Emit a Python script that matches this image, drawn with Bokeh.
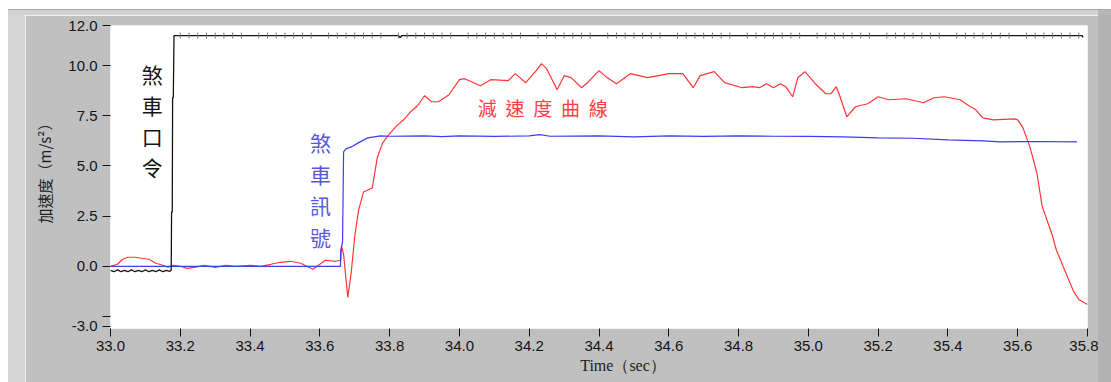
import numpy as np
from bokeh.plotting import figure
from bokeh.models import Range1d, FixedTicker, Label
from bokeh.embed import file_html
from bokeh.resources import INLINE

# ---- data -----------------------------------------------------------------
# brake command (black): low before the command, then a step to the command level
CMD_T = [33.00, 33.01, 33.02, 33.03, 33.04, 33.05, 33.06, 33.07, 33.08, 33.09,
         33.10, 33.11, 33.12, 33.13, 33.14, 33.15, 33.16, 33.17, 33.174,
         33.175, 33.177, 33.178, 33.180, 33.182, 33.825, 33.830, 33.835,
         35.785, 35.787]
CMD_V = [-0.20, -0.27, -0.18, -0.27, -0.20, -0.27, -0.18, -0.27, -0.20, -0.27,
         -0.18, -0.27, -0.20, -0.27, -0.18, -0.27, -0.20, -0.25, -0.20,
         2.70, 2.70, 8.40, 8.40, 11.50, 11.50, 11.40, 11.50,
         11.50, 11.40]
CMD_SAMPLE_START = 33.2
CMD_SAMPLE_STOP = 35.78
CMD_SAMPLE_DT = 0.025
CMD_LEVEL = 11.5

# brake signal (blue)
SIG_T = [33.00, 33.30, 33.659, 33.660, 33.665, 33.668, 33.675, 33.69, 33.71,
         33.737, 33.774, 33.80, 33.90, 33.95, 34.00, 34.10, 34.20, 34.23,
         34.26, 34.40, 34.50, 34.60, 34.70, 34.80, 34.90, 35.00, 35.10,
         35.20, 35.30, 35.40, 35.50, 35.55, 35.65, 35.77]
SIG_V = [0.00, 0.00, 0.00, 0.80, 1.20, 5.70, 5.85, 5.95, 6.15,
         6.40, 6.50, 6.48, 6.50, 6.46, 6.50, 6.47, 6.50, 6.56,
         6.48, 6.50, 6.45, 6.50, 6.47, 6.50, 6.48, 6.47, 6.45,
         6.40, 6.38, 6.30, 6.25, 6.20, 6.22, 6.20]

# measured deceleration (red)
DEC_T = [33.000, 33.020, 33.035, 33.050, 33.070, 33.090, 33.110, 33.130,
         33.150, 33.165, 33.180, 33.200, 33.220, 33.240, 33.270, 33.300,
         33.330, 33.360, 33.400, 33.430, 33.460, 33.487, 33.516, 33.545,
         33.580, 33.600, 33.616, 33.645, 33.660, 33.662, 33.668, 33.680,
         33.690, 33.700, 33.711, 33.725, 33.750, 33.765, 33.780, 33.797,
         33.820, 33.840, 33.860, 33.880, 33.900, 33.920, 33.940, 33.970,
         34.000, 34.015, 34.060, 34.090, 34.140, 34.160, 34.190, 34.220,
         34.235, 34.250, 34.270, 34.280, 34.300, 34.320, 34.350, 34.370,
         34.400, 34.420, 34.450, 34.490, 34.540, 34.600, 34.640, 34.670,
         34.690, 34.730, 34.760, 34.810, 34.840, 34.860, 34.880, 34.900,
         34.920, 34.935, 34.955, 34.970, 34.990, 35.020, 35.050, 35.065,
         35.080, 35.090, 35.110, 35.135, 35.170, 35.200, 35.230, 35.280,
         35.330, 35.360, 35.390, 35.435, 35.460, 35.480, 35.500, 35.530,
         35.590, 35.600, 35.615, 35.635, 35.655, 35.670, 35.700, 35.710,
         35.730, 35.760, 35.775, 35.800]
DEC_V = [0.00, 0.10, 0.35, 0.45, 0.45, 0.40, 0.35, 0.15,
         0.05, -0.05, 0.05, 0.00, -0.10, -0.05, 0.05, -0.05,
         0.05, 0.00, 0.05, 0.00, 0.10, 0.20, 0.25, 0.15,
         -0.15, 0.10, 0.30, 0.25, 0.30, 1.00, 0.60, -1.55,
         -0.30, 1.50, 2.80, 3.70, 3.90, 5.45, 6.15, 6.55,
         7.00, 7.30, 7.70, 8.00, 8.50, 8.20, 8.20, 8.55,
         9.30, 9.35, 9.00, 9.30, 9.25, 9.60, 9.15, 9.75,
         10.10, 9.85, 9.15, 8.80, 9.50, 9.40, 8.90, 9.20,
         9.75, 9.45, 9.10, 9.60, 9.40, 9.60, 9.60, 8.90,
         9.50, 9.70, 9.15, 8.90, 8.95, 8.90, 9.10, 8.90,
         9.10, 8.95, 8.45, 9.40, 9.70, 9.10, 8.60, 8.60,
         8.95, 8.50, 7.45, 7.95, 8.10, 8.45, 8.30, 8.35,
         8.15, 8.40, 8.45, 8.30, 8.00, 7.80, 7.40, 7.30,
         7.35, 7.30, 6.90, 5.95, 4.65, 3.00, 1.50, 0.85,
         0.00, -1.25, -1.65, -1.90]

X_TICKS = [33.0, 33.2, 33.4, 33.6, 33.8, 34.0, 34.2, 34.4, 34.6, 34.8,
           35.0, 35.2, 35.4, 35.6, 35.8]
Y_TICKS = [-3.0, -2.5, 0.0, 2.5, 5.0, 7.5, 10.0, 12.0]
Y_TICK_LABELS = ["-3.0", "", "0.0", "2.5", "5.0", "7.5", "10.0", "12.0"]

CMD_TEXT = "煞車口令"
SIG_TEXT = "煞車訊號"
DEC_TEXT = "減速度曲線"

# ---- figure -----------------------------------------------------------------
PANEL = "#c0c0c0"
RED = "#ff3535"
BLUE = "#3c3cf0"
BLACK = "#141414"

# panel sits inside a white page with a bevelled edge (left/top light, right dark)
p = figure(width=1073, height=367, output_backend="svg", toolbar_location=None,
           x_range=Range1d(33.0, 35.8), y_range=Range1d(-3.1, 12.0),
           min_border_left=85, min_border_right=11, min_border_top=10,
           min_border_bottom=54)
p.margin = (15, 13, 0, 25)
p.styles = {"box-shadow": ("-17px 0 0 0 #d4d4d4, 0 -5px 0 0 #d2d2d2, "
                           "-17px -5px 0 0 #d2d2d2, 13px 0 0 0 #b2b2b2, "
                           "13px -5px 0 0 #b8b8b8, 13px -6px 0 0 #a8a8a8, "
                           "-17px -6px 0 0 #a8a8a8, 0 -6px 0 0 #a8a8a8")}
p.border_fill_color = PANEL
p.background_fill_color = "white"
p.outline_line_color = None
p.xgrid.visible = False
p.ygrid.visible = False

tick_font = "Liberation Sans"
for ax in (p.xaxis[0], p.yaxis[0]):
    ax.axis_line_color = None
    ax.major_tick_in = 0
    ax.major_tick_out = 8
    ax.major_tick_line_color = BLACK
    ax.minor_tick_line_color = None
    ax.major_label_text_font = tick_font
    ax.major_label_text_font_size = "15px"
    ax.major_label_text_color = BLACK
    ax.axis_label_text_font_style = "normal"
    ax.axis_label_text_color = "#202020"

p.xaxis.ticker = FixedTicker(ticks=X_TICKS)
p.xaxis.major_label_overrides = {t: f"{t:.1f}" for t in X_TICKS}
p.xaxis.major_label_standoff = 4
p.xaxis.axis_label = "\u2003\u2003\u2003Time（sec）"
p.xaxis.axis_label_text_font = "Liberation Serif"
p.xaxis.axis_label_text_font_size = "16px"
p.xaxis.axis_label_standoff = 3

p.yaxis.ticker = FixedTicker(ticks=Y_TICKS)
p.yaxis.major_label_overrides = dict(zip(Y_TICKS, Y_TICK_LABELS))
p.yaxis.major_label_standoff = 5
p.yaxis.axis_label = "\u2003加速度（m/s²）"
p.yaxis.axis_label_text_font = "Noto Sans CJK TC"
p.yaxis.axis_label_text_font_size = "15px"
p.yaxis.axis_label_standoff = 10

# ---- series -----------------------------------------------------------------
p.line(DEC_T, DEC_V, line_color=RED, line_width=1.2)
p.line(SIG_T, SIG_V, line_color=BLUE, line_width=1.2)
p.line(CMD_T, CMD_V, line_color=BLACK, line_width=1.3)

# sample marks along the command level (every 8th sample dropped)
k = np.arange(int(round((CMD_SAMPLE_STOP - CMD_SAMPLE_START) / CMD_SAMPLE_DT)) + 1)
k = k[(k % 8 != 0) | (k == 0)]
p.scatter(CMD_SAMPLE_START + k * CMD_SAMPLE_DT, np.full(len(k), CMD_LEVEL),
          marker="dash", angle=np.pi / 2, size=6, line_color="#7a7a6a",
          line_width=1)

# ---- annotations ------------------------------------------------------------
cjk = "Noto Sans CJK TC"

def stacked(text, x, y, pitch, color, size, vertical=True):
    for i, ch in enumerate(text):
        p.add_layout(Label(x=x, y=y, text=ch,
                           x_offset=0 if vertical else pitch * i,
                           y_offset=-pitch * i if vertical else 0,
                           text_align="center", text_baseline="middle",
                           text_font=cjk, text_font_size=f"{size}px",
                           text_color=color))

stacked(CMD_TEXT, 33.12, 9.56, 31, BLACK, 21)
stacked(SIG_TEXT, 33.602, 6.17, 31.5, "#5858d8", 21)
stacked(DEC_TEXT, 34.08, 7.91, 27.75, "#ff4040", 19, vertical=False)

open("out.html", "w").write(file_html(p, INLINE))
